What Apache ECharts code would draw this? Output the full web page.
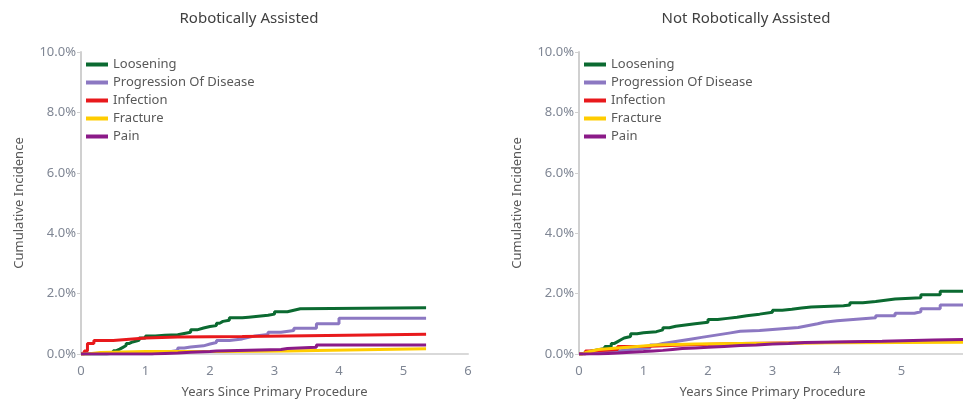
<!DOCTYPE html>
<html>
<head>
<meta charset="utf-8">
<script src="https://cdn.jsdelivr.net/npm/echarts@6/dist/echarts.min.js"></script>
<style>
  html, body { margin: 0; padding: 0; background: #fff; overflow: hidden; }
  #main { width: 963px; height: 400px; }
</style>
</head>
<body>
<div id="main"></div>
<script>
var causes = ["Loosening", "Progression Of Disease", "Infection", "Fracture", "Pain"];
var colors = ["#0b6a31", "#8c78c2", "#e8191c", "#ffcc00", "#8b1a88"];

// Robotically Assisted: [years, cumulative %]
var raLoosening = [[0,0],[0.3,0],[0.4,0.03],[0.5,0.11],[0.55,0.16],[0.6,0.22],[0.65,0.28],[0.7,0.35],[0.75,0.4],[0.8,0.45],[0.9,0.53],[1.0,0.6],[1.15,0.62],[1.3,0.64],[1.5,0.68],[1.6,0.72],[1.7,0.8],[1.8,0.86],[1.9,0.91],[2.0,0.94],[2.1,1.02],[2.15,1.08],[2.2,1.12],[2.3,1.2],[2.5,1.22],[2.6,1.28],[2.9,1.32],[3.0,1.4],[3.2,1.45],[3.3,1.5],[3.4,1.53],[5.35,1.53]];
var raProgression = [[0,0],[1.0,0],[1.1,0.05],[1.2,0.08],[1.4,0.12],[1.5,0.2],[1.6,0.23],[1.7,0.27],[1.9,0.33],[2.0,0.38],[2.1,0.45],[2.3,0.5],[2.5,0.55],[2.6,0.6],[2.7,0.65],[2.9,0.72],[3.1,0.78],[3.3,0.85],[3.65,1.0],[4.0,1.18],[5.35,1.18]];
var raInfection = [[0,0],[0.05,0.1],[0.1,0.35],[0.2,0.45],[0.5,0.5],[0.8,0.53],[1.0,0.56],[1.5,0.58],[2.5,0.6],[3.2,0.65],[5.35,0.65]];
var raFracture = [[0,0],[0.1,0.05],[0.3,0.08],[1.0,0.08],[2.2,0.1],[3.2,0.12],[3.65,0.17],[5.35,0.17]];
var raPain = [[0,0],[1.0,0],[1.1,0.03],[1.5,0.06],[1.7,0.08],[2.0,0.1],[2.1,0.15],[3.1,0.18],[3.2,0.22],[3.65,0.3],[5.35,0.3]];

// Not Robotically Assisted
var nraLoosening = [[0,0],[0.05,0.05],[0.1,0.1],[0.2,0.14],[0.3,0.18],[0.4,0.25],[0.5,0.35],[0.55,0.41],[0.6,0.47],[0.65,0.53],[0.7,0.58],[0.8,0.67],[0.9,0.7],[1.0,0.74],[1.2,0.8],[1.3,0.87],[1.4,0.92],[1.5,0.96],[1.65,1.0],[1.8,1.05],[2.0,1.14],[2.15,1.18],[2.3,1.22],[2.45,1.27],[2.6,1.32],[2.8,1.38],[3.0,1.45],[3.15,1.48],[3.3,1.52],[3.45,1.56],[3.6,1.6],[4.1,1.62],[4.2,1.7],[4.4,1.74],[4.6,1.78],[4.75,1.82],[4.9,1.86],[5.3,1.96],[5.6,2.08],[6,2.08]];
var nraProgression = [[0,0],[0.1,0.05],[0.3,0.1],[0.6,0.15],[0.8,0.2],[1.1,0.3],[1.2,0.35],[1.3,0.4],[1.45,0.45],[1.6,0.5],[1.75,0.55],[1.9,0.6],[2.05,0.65],[2.2,0.7],[2.35,0.75],[2.5,0.78],[2.8,0.83],[3.1,0.88],[3.4,0.92],[3.5,0.96],[3.6,1.0],[3.7,1.05],[3.8,1.1],[4.0,1.15],[4.3,1.2],[4.6,1.27],[4.9,1.35],[5.2,1.4],[5.3,1.5],[5.6,1.62],[6,1.62]];
var nraInfection = [[0,0],[0.1,0.1],[0.2,0.15],[0.6,0.25],[1.0,0.3],[1.6,0.35],[2.5,0.37],[3.5,0.4],[4.5,0.42],[5.5,0.44],[6,0.44]];
var nraFracture = [[0,0],[0.05,0.05],[0.1,0.1],[0.2,0.15],[0.3,0.2],[0.6,0.25],[0.9,0.3],[1.2,0.33],[1.8,0.35],[2.5,0.36],[3.2,0.37],[4.0,0.38],[5.0,0.39],[6,0.4]];
var nraPain = [[0,0],[0.3,0.03],[0.6,0.06],[0.8,0.08],[1.0,0.1],[1.15,0.12],[1.3,0.15],[1.45,0.18],[1.6,0.2],[1.8,0.22],[2.0,0.25],[2.25,0.28],[2.5,0.3],[2.75,0.33],[3.0,0.35],[3.25,0.38],[3.5,0.4],[4.0,0.42],[4.7,0.46],[5.5,0.48],[6,0.48]];

var raData = [raLoosening, raProgression, raInfection, raFracture, raPain];
var nraData = [nraLoosening, nraProgression, nraInfection, nraFracture, nraPain];

var chart = echarts.init(document.getElementById("main"), null, { renderer: "canvas" });
var font = "'Noto Sans', 'Open Sans', sans-serif";

function xAxisFor(i) {
  return {
    type: "value", gridIndex: i, min: 0, max: 6, interval: 1,
    name: "Years Since Primary Procedure", nameLocation: "middle", nameGap: 32,
    nameTextStyle: { color: "#595959", fontSize: 13, fontFamily: font },
    axisLine: { lineStyle: { color: "#d9d9d9", width: 2 } },
    axisTick: { show: false },
    axisLabel: { color: "#7f8694", fontSize: 13, fontFamily: font, margin: 11, showMaxLabel: true },
    splitLine: { show: false }
  };
}
function yAxisFor(i) {
  return {
    type: "value", gridIndex: i, min: 0, max: 10, interval: 2,
    name: "Cumulative Incidence", nameLocation: "middle", nameGap: 55,
    nameTextStyle: { color: "#595959", fontSize: 13, fontFamily: font },
    axisLine: { show: true, lineStyle: { color: "#d0d0d0", width: 2 } },
    axisTick: { show: true, length: 4, lineStyle: { color: "#d0d0d0" } },
    axisLabel: { color: "#7f8694", fontSize: 13, fontFamily: font, margin: 5,
      formatter: function (v) { return v.toFixed(1) + "%"; } },
    splitLine: { show: false }
  };
}
function legendFor(left) {
  return {
    orient: "vertical", left: left, top: 53, itemWidth: 22, itemHeight: 4, itemGap: 5,
    icon: "rect", data: causes,
    textStyle: { color: "#595959", fontSize: 13, fontFamily: font }
  };
}

var series = [];
[raData, nraData].forEach(function (set, gi) {
  set.forEach(function (d, k) {
    series.push({
      name: causes[k], type: "line", step: "end", xAxisIndex: gi, yAxisIndex: gi,
      data: d, showSymbol: false, symbol: "none", silent: true,
      lineStyle: { color: colors[k], width: 3 }, itemStyle: { color: colors[k] }
    });
  });
});

chart.setOption({
  animation: false,
  color: colors,
  title: [
    { text: "Robotically Assisted", left: 244, top: 6, textAlign: "center",
      textStyle: { color: "#404040", fontSize: 15, fontWeight: "normal", fontFamily: font } },
    { text: "Not Robotically Assisted", left: 741, top: 6, textAlign: "center",
      textStyle: { color: "#404040", fontSize: 15, fontWeight: "normal", fontFamily: font } }
  ],
  legend: [legendFor(81), legendFor(579)],
  grid: [
    { left: 81, width: 387, top: 52, bottom: 46, outerBoundsMode: "none" },
    { left: 579, width: 387, top: 52, bottom: 46, outerBoundsMode: "none" }
  ],
  xAxis: [xAxisFor(0), xAxisFor(1)],
  yAxis: [yAxisFor(0), yAxisFor(1)],
  series: series
});
</script>
</body>
</html>
